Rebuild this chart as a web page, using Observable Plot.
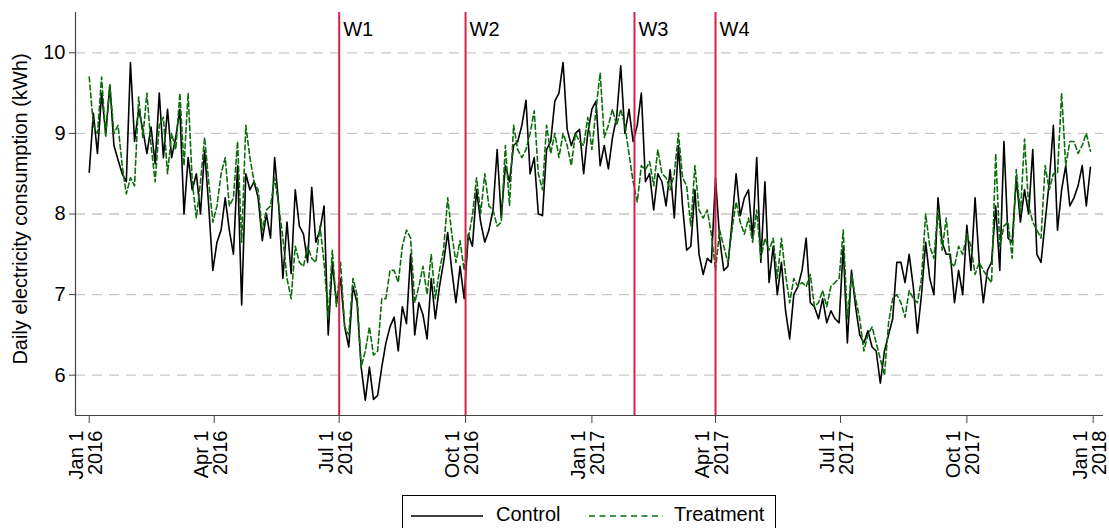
<!DOCTYPE html>
<html>
<head>
<meta charset="utf-8">
<script src="https://cdn.jsdelivr.net/npm/d3@7"></script>
<script src="https://cdn.jsdelivr.net/npm/@observablehq/plot@0.6"></script>
<style>
  body { margin: 0; background: #fff; font-family: "Liberation Sans", Arial, Helvetica, sans-serif; }
  #legend { position: relative; margin-left: 402px; width: 374px; height: 40px; border: 1px solid #000; box-sizing: border-box; }
  #legend .lab { position: absolute; top: 6px; font-size: 20px; color: #000; line-height: 24px; }
  #legend svg { position: absolute; left: 0; top: 0; }
</style>
</head>
<body>
<div id="chart"></div>
<div id="legend"></div>
<script>
// ---- data (one value every 3 days from Jan 1 2016) ----
const startDate = "2016-01-01";
const stepDays = 3;

const control = [
  8.52, 9.25, 8.75, 9.5, 9.0, 9.6, 8.85, 8.67, 8.5, 8.4,
  9.88, 8.9, 9.3, 9.05, 8.75, 9.08, 8.62, 9.5, 8.7, 9.3,
  8.7, 8.95, 9.3, 8.0, 8.7, 8.3, 8.5, 8.0, 8.79, 8.1,
  7.3, 7.65, 7.8, 8.2, 7.8, 7.5, 8.6, 6.87, 8.5, 8.3,
  8.4, 8.2, 7.67, 8.0, 7.7, 8.7, 8.1, 7.2, 7.9, 7.26,
  8.3, 7.85, 7.75, 7.4, 8.33, 7.65, 7.8, 8.1, 6.5, 7.4,
  6.9, 7.2, 6.6, 6.35, 7.1, 6.9, 6.1, 5.69, 6.1, 5.7,
  5.75, 6.1, 6.4, 6.6, 6.72, 6.3, 6.85, 6.64, 7.5,
  6.5, 6.9, 6.75, 6.45, 7.2, 6.7, 7.1, 7.4, 7.77, 7.3,
  6.9, 7.35, 6.95, 7.75, 7.6, 8.3, 7.9, 7.65, 7.8, 8.05,
  8.8, 7.95, 8.6, 8.4, 8.85, 8.9, 9.1, 9.41, 8.5, 8.7,
  8.0, 7.98, 8.8, 8.9, 9.4, 9.5, 9.88, 9.05, 8.85,
  9.0, 9.05, 8.5, 9.0, 9.3, 9.4, 8.6, 8.85, 8.56, 8.95,
  9.2, 9.84, 9.0, 9.3, 8.9, 9.1, 9.5, 8.4, 8.5, 8.05,
  8.5, 8.4, 8.1, 8.55, 7.95, 8.85, 8.1, 7.55, 7.6, 8.3,
  7.5, 7.25, 7.45, 7.4, 8.45, 7.7, 7.3, 7.35,
  7.9, 8.5, 7.98, 8.2, 8.3, 7.7, 8.7, 7.4, 8.4, 7.15,
  7.6, 7.0, 7.4, 6.8, 6.45, 7.0, 7.1, 7.3, 7.7, 6.9,
  6.85, 6.7, 6.95, 6.65, 6.8, 6.7, 6.65, 7.6, 6.4, 7.3,
  6.85, 6.5, 6.4, 6.55, 6.35, 6.3, 5.9, 6.3, 6.5,
  6.7, 7.4, 7.4, 7.15, 7.5, 7.1, 6.52, 7.0, 7.65, 7.2,
  7.0, 8.2, 7.65, 7.5, 7.5, 6.9, 7.3, 7.0, 7.86, 7.3,
  8.2, 7.4, 6.9, 7.3, 7.4, 8.1, 7.3, 8.9, 7.7, 7.65,
  8.45, 7.9, 8.3, 8.0, 8.8, 7.5, 7.4, 7.9, 8.4, 9.1,
  7.8, 8.3, 8.6, 8.1, 8.2, 8.35, 8.6, 8.1, 8.58
];

const treatment = [
  9.7, 9.1, 9.0, 9.7, 8.95, 9.6, 9.0, 9.1, 8.6, 8.25,
  8.45, 8.35, 9.45, 8.95, 9.5, 8.85, 8.4, 9.1, 9.2, 8.5,
  9.0, 8.8, 9.5, 8.6, 9.5, 8.4, 7.95, 8.4, 8.95, 8.4,
  7.9, 8.1, 8.5, 8.7, 8.1, 8.2, 8.9, 7.65, 9.1, 8.7,
  8.4, 8.3, 7.8, 8.05, 8.1, 8.45, 8.1, 7.7, 7.2, 6.95,
  7.6, 7.4, 7.35, 7.6, 7.45, 7.4, 7.85, 7.4, 6.7, 7.55,
  6.85, 7.4, 6.6, 6.5, 7.2, 7.0, 6.1, 6.3, 6.6, 6.25,
  6.3, 6.95, 6.95, 7.3, 7.3, 7.15, 7.6, 7.8, 7.7,
  6.9, 7.1, 7.35, 7.0, 7.5, 6.95, 7.3, 7.55, 8.2, 7.75,
  7.4, 7.67, 7.3, 7.7, 7.98, 8.45, 8.0, 8.5, 8.1, 8.05,
  7.85, 7.9, 8.85, 8.1, 9.1, 8.8, 8.7, 8.8, 9.0, 9.28,
  8.5, 8.3, 9.1, 8.75, 9.0, 8.7, 9.0, 8.85, 8.6,
  9.0, 8.9, 8.85, 9.2, 8.8, 9.3, 9.75, 8.95, 9.1, 9.3,
  9.1, 9.3, 9.1, 8.75, 8.4, 8.15, 8.6, 8.55, 8.65, 8.35,
  8.8, 8.5, 8.45, 8.3, 8.5, 9.0, 8.45, 8.35, 7.85, 8.6,
  8.05, 7.95, 8.05, 7.75, 7.3, 7.8, 7.6, 7.4,
  7.8, 8.15, 7.9, 7.75, 7.95, 7.65, 8.05, 7.45, 7.7, 7.55,
  7.7, 7.2, 7.7, 7.25, 6.9, 7.2, 7.1, 7.15, 7.1, 7.25,
  6.85, 6.9, 7.05, 6.85, 7.1, 7.15, 7.2, 7.8, 6.7, 7.25,
  6.95, 6.7, 6.3, 6.5, 6.6, 6.4, 6.2, 6.0, 6.65,
  6.95, 7.0, 6.9, 6.72, 7.05, 6.95, 6.9, 7.2, 8.0, 7.6,
  7.45, 8.05, 7.55, 7.95, 7.4, 7.35, 7.6, 7.5, 7.75, 7.6,
  7.25, 7.4, 7.3, 7.22, 7.15, 8.75, 7.6, 7.85, 7.9, 7.45,
  8.55, 8.0, 8.93, 8.1, 7.9, 7.8, 7.7, 8.6, 8.3, 8.5,
  8.5, 9.5, 8.6, 8.9, 8.9, 8.75, 8.85, 9.0, 8.78
];

const seriesNames = ["Control", "Treatment"];
const waveLabels = ["W1", "W2", "W3", "W4"];
const waveDates = ["2016-07-01", "2016-10-01", "2017-02-01", "2017-04-01"];
const tickDates = ["2016-01-01", "2016-04-01", "2016-07-01", "2016-10-01", "2017-01-01",
                   "2017-04-01", "2017-07-01", "2017-10-01", "2018-01-01"];
const tickLabels = ["Jan 1\n2016", "Apr 1\n2016", "Jul 1\n2016", "Oct 1\n2016", "Jan 1\n2017",
                    "Apr 1\n2017", "Jul 1\n2017", "Oct 1\n2017", "Jan 1\n2018"];
const yTicks = [6, 7, 8, 9, 10];
const yLabel = "Daily electricity consumption (kWh)";

// ---- build tables ----
const start = new Date(startDate + "T00:00:00Z");
const rows = control.map((v, i) => ({
  date: d3.utcDay.offset(start, i * stepDays),
  control: v,
  treatment: treatment[i]
}));
const waves = waveLabels.map((l, i) => ({label: l, date: new Date(waveDates[i] + "T00:00:00Z")}));
const ticks = tickDates.map((d, i) => ({date: new Date(d + "T00:00:00Z"), label: tickLabels[i]}));

const xDomain = [new Date("2015-12-22T00:00:00Z"), new Date("2018-01-08T12:00:00Z")];
const FONT = "Liberation Sans, Arial, Helvetica, sans-serif";
const GREEN = "#0a6e0a";
const RED = "#d81f4d";

const chart = Plot.plot({
  width: 1109,
  height: 495,
  marginTop: 12,
  marginBottom: 80,
  marginLeft: 75,
  marginRight: 6,
  style: {fontFamily: FONT, fontSize: "20px", background: "#fff", color: "#000", overflow: "visible"},
  x: {type: "utc", domain: xDomain, axis: null},
  y: {domain: [5.5, 10.5], axis: null},
  marks: [
    Plot.ruleY(yTicks, {stroke: "#c8c8c8", strokeWidth: 1.3, strokeDasharray: "10,7"}),
    Plot.axisY({ticks: yTicks, tickSize: 6, tickPadding: 4, fontSize: 20, label: null, stroke: "#444",
      tickFormat: d => String(d)}),
    Plot.axisX({ticks: ticks.map(d => d.date), tickSize: 8, tickFormat: () => "", label: null, stroke: "#444"}),
    Plot.text(ticks, {x: "date", text: "label", frameAnchor: "bottom", dy: 15, dx: -3, rotate: -90,
      textAnchor: "end", lineAnchor: "middle", lineHeight: 0.95, fontSize: 20, fill: "#000"}),
    Plot.text([yLabel], {frameAnchor: "left", dx: -55, dy: -5, rotate: -90, textAnchor: "middle",
      lineAnchor: "middle", fontSize: 20, fill: "#000"}),
    Plot.lineY(rows, {x: "date", y: "control", stroke: "#000", strokeWidth: 1.6}),
    Plot.lineY(rows, {x: "date", y: "treatment", stroke: GREEN, strokeWidth: 1.6, strokeDasharray: "5,3"}),
    Plot.ruleX(waves, {x: "date", stroke: RED, strokeWidth: 2}),
    Plot.text(waves, {x: "date", text: "label", frameAnchor: "top", dy: 9, dx: 4, textAnchor: "start",
      fontSize: 20, fill: "#000"}),
    Plot.ruleY([5.5], {stroke: "#444", strokeWidth: 1.2}),
    Plot.ruleX([xDomain[0]], {stroke: "#444", strokeWidth: 1.2})
  ]
});
document.getElementById("chart").appendChild(chart);

// ---- legend (below the svg) ----
const legend = document.getElementById("legend");
legend.innerHTML =
  `<svg width="372" height="38">
     <line x1="8" x2="80" y1="20" y2="20" stroke="#000" stroke-width="1.6"/>
     <line x1="186" x2="260" y1="20" y2="20" stroke="${GREEN}" stroke-width="1.6" stroke-dasharray="6,4.5"/>
   </svg>
   <span class="lab" style="left:93px">${seriesNames[0]}</span>
   <span class="lab" style="left:271px">${seriesNames[1]}</span>`;
</script>
</body>
</html>
